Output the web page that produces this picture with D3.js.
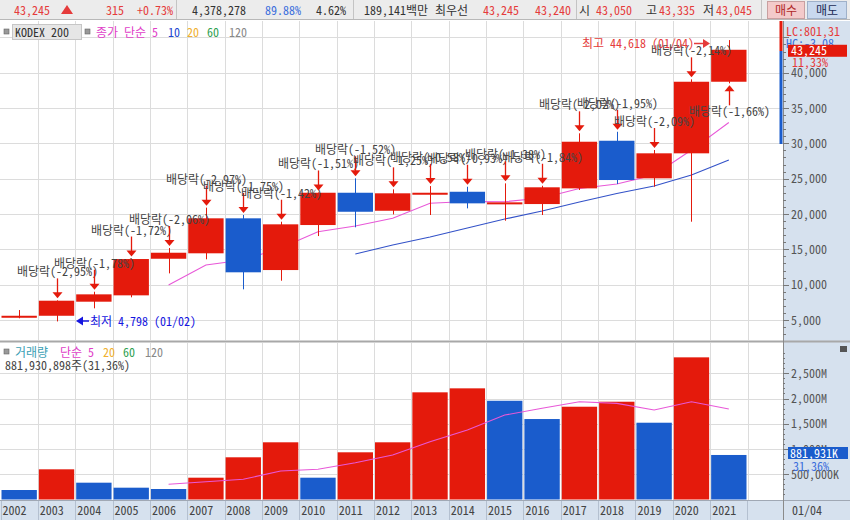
<!DOCTYPE html>
<html><head><meta charset="utf-8">
<script src="https://cdn.jsdelivr.net/npm/d3@7"></script>
<style>
html,body{margin:0;padding:0;background:#fff;}
svg{display:block;font-family:"Noto Sans Mono CJK KR","Noto Sans CJK KR","Noto Sans",sans-serif;}
</style></head><body>
<svg id="c" width="850" height="520"></svg>
<script>
// ---------------- DATA ----------------
const years = [2002,2003,2004,2005,2006,2007,2008,2009,2010,2011,2012,2013,2014,2015,2016,2017,2018,2019,2020,2021];
const openP  = [5380,5600,7590,8490,13670,14440,19390,12070,18440,23010,20460,22950,23150,21410,21410,23630,30370,25050,28590,38720];
const highP  = [6410,7780,9000,13700,15190,20900,19860,18910,23050,25050,23490,23960,23860,24340,24000,31420,31640,29060,39060,44618];
const lowP   = [5240,4798,6650,8210,11600,13590,9340,10560,16880,18120,19950,19860,20800,19050,19860,23400,24240,23860,18910,38500];
const closeP = [5600,7730,8630,13630,14520,19390,11750,18540,23010,20320,22930,23010,21510,21650,23780,30230,24810,28590,38720,43245];
const ma5P   = [null,null,null,null,9950,12780,13490,15190,17490,18300,19390,21530,21770,21740,22260,23610,24240,25520,29050,32950];
const ma10P  = [null,null,null,null,null,null,null,null,null,14340,15610,16740,18020,19290,20420,21700,22900,23960,25520,27640];
const volume = [188,598,333,234,208,432,836,1133,432,935,1133,2123,2202,1956,1594,1838,1937,1521,2816,882]; // millions
const ma5V   = [null,null,null,null,301,352,400,564,598,729,881,1145,1376,1673,1806,1937,1905,1772,1937,1792];
const divLabels = [null,"배당락(-2,95%)","배당락(-1,78%)","배당락(-1,72%)","배당락(-2,06%)","배당락(-2,97%)","배당락(-1,75%)","배당락(-1,42%)","배당락(-1,51%)","배당락(-1,52%)","배당락(-1,25%)","배당락(-0,58%)","배당락(-0,93%)","배당락(-1,38%)","배당락(-1,84%)","배당락(-2,02%)","배당락(-1,95%)","배당락(-2,09%)","배당락(-2,14%)","배당락(-1,66%)"];
const priceTicks = [5000,10000,15000,20000,25000,30000,35000,40000];
const priceTickLabels = ["5,000","10,000","15,000","20,000","25,000","30,000","35,000","40,000"];
const volTicks = [500,1000,1500,2000,2500];
const volTickLabels = ["500,000K","1,000M","1,500M","2,000M","2,500M"];

// ---------------- STYLE ----------------
const RED = "#e41a0c", BLUE = "#1a5ccc", PINK = "#e858d8", MABLUE = "#3352c8";
const GRID = "#dcdcdc", AXBG = "#d6e1ee", TXT = "#444";

const svg = d3.select("#c");
svg.append("rect").attr("width",850).attr("height",520).attr("fill","#fff");

function txt(g,x,y,s,color,size,anchor,weight){
  return g.append("text").attr("x",x).attr("y",y).text(s).attr("fill",color||TXT)
    .attr("font-size",size||12).attr("text-anchor",anchor||"start").attr("font-weight",weight||"normal");
}

// ---------------- SCALES ----------------
const plotR = 783;
const x = d3.scaleBand().domain(years).range([0.5,747.5]).padding(0);
const bw = x.bandwidth();
const cx = d => x(d) + bw/2;
const y = d3.scaleLinear().domain([5000,40000]).range([320,72.7]);
const yv = d3.scaleLinear().domain([0,2500]).range([499.5,373.3]);

// ---------------- TOP BAR ----------------
const topG = svg.append("g");
topG.append("rect").attr("x",0).attr("y",0).attr("width",850).attr("height",20).attr("fill","#ececec");
topG.append("line").attr("x1",0).attr("x2",850).attr("y1",19.5).attr("y2",19.5).attr("stroke","#b8b8b8");
[176.5,353.5,576.5,761.5].forEach(v=>topG.append("line").attr("x1",v).attr("x2",v).attr("y1",0).attr("y2",19).attr("stroke","#c4c4c4"));
const tb = 15;
txt(topG,14,tb,"43,245","#e53b3b",12);
topG.append("path").attr("d","M61,14 L67,5 L73,14 Z").attr("fill","#e53b3b");
txt(topG,106,tb,"315","#e53b3b",12);
txt(topG,137,tb,"+0.73%","#e53b3b",12);
txt(topG,192,tb,"4,378,278","#333",12);
txt(topG,265,tb,"89.88%","#3a6edc",12);
txt(topG,316,tb,"4.62%","#333",12);
txt(topG,364,tb,"189,141백만","#333",12);
txt(topG,435,tb,"최우선","#333",12);
txt(topG,483,tb,"43,245","#e53b3b",12);
txt(topG,535,tb,"43,240","#e53b3b",12);
txt(topG,579,tb,"시","#333",12);
txt(topG,596,tb,"43,050","#e53b3b",12);
txt(topG,646,tb,"고","#333",12);
txt(topG,659,tb,"43,335","#e53b3b",12);
txt(topG,703,tb,"저","#333",12);
txt(topG,716,tb,"43,045","#e53b3b",12);
topG.append("rect").attr("x",767.5).attr("y",1.5).attr("width",37).attr("height",17).attr("fill","#f3caca").attr("stroke","#c9a0a0");
txt(topG,786,tb,"매수","#b02828",12,"middle");
topG.append("rect").attr("x",807.5).attr("y",1.5).attr("width",39).attr("height",17).attr("fill","#c9d9ee").attr("stroke","#9fb1c9");
txt(topG,827,tb,"매도","#1b2b55",12,"middle");

// ---------------- BACKGROUNDS ----------------
svg.append("rect").attr("x",plotR).attr("y",21).attr("width",850-plotR).attr("height",499).attr("fill",AXBG);
svg.append("rect").attr("x",0).attr("y",500).attr("width",plotR).attr("height",20).attr("fill",AXBG);

// ---------------- GRID ----------------
const grid = svg.append("g");
[...priceTicks,45000].forEach(v=>grid.append("line").attr("x1",0).attr("x2",plotR).attr("y1",Math.round(y(v))+0.5).attr("y2",Math.round(y(v))+0.5).attr("stroke",GRID));
volTicks.forEach(v=>grid.append("line").attr("x1",0).attr("x2",plotR).attr("y1",Math.round(yv(v))+0.5).attr("y2",Math.round(yv(v))+0.5).attr("stroke",GRID));
[...years.slice(1).map(d=>x(d)),747.5].forEach(v=>{
  const xx = Math.round(v)+0.5;
  grid.append("line").attr("x1",xx).attr("x2",xx).attr("y1",21).attr("y2",340).attr("stroke",GRID);
  grid.append("line").attr("x1",xx).attr("x2",xx).attr("y1",343).attr("y2",500).attr("stroke",GRID);
});

svg.append("rect").attr("x",0).attr("y",340.5).attr("width",850).attr("height",2).attr("fill","#a8a8a8");
svg.append("line").attr("x1",0).attr("x2",850).attr("y1",500.5).attr("y2",500.5).attr("stroke","#a0a8b4");
svg.append("line").attr("x1",plotR+0.5).attr("x2",plotR+0.5).attr("y1",21).attr("y2",520).attr("stroke","#8a8a8a");

// ---------------- PRICE PANEL ----------------
svg.append("clipPath").attr("id","pc").append("rect").attr("x",0).attr("y",21).attr("width",plotR).attr("height",319);
const pg = svg.append("g").attr("clip-path","url(#pc)");

const maLine = d3.line().defined(d=>d.v!=null).x(d=>cx(d.yr)).y(d=>y(d.v));
pg.append("path").datum(years.map((yr,i)=>({yr,v:ma10P[i]}))).attr("d",maLine).attr("fill","none").attr("stroke",MABLUE).attr("stroke-width",1.1);
pg.append("path").datum(years.map((yr,i)=>({yr,v:ma5P[i]}))).attr("d",maLine).attr("fill","none").attr("stroke",PINK).attr("stroke-width",1.1);

years.forEach((yr,i)=>{
  const up = closeP[i] >= openP[i];
  const col = up ? RED : BLUE;
  const xc = Math.round(cx(yr))+0.5;
  pg.append("line").attr("x1",xc).attr("x2",xc).attr("y1",y(highP[i])).attr("y2",y(lowP[i])).attr("stroke",col).attr("stroke-width",1);
  const t = y(Math.max(openP[i],closeP[i])), b = y(Math.min(openP[i],closeP[i]));
  pg.append("rect").attr("x",x(yr)+1).attr("y",t).attr("width",bw-2).attr("height",Math.max(2,b-t)).attr("fill",col);
});

// dividend annotations
const ag = svg.append("g");
years.forEach((yr,i)=>{
  const lab = divLabels[i];
  if(!lab) return;
  const xc = Math.round(cx(yr))+0.5;
  if(i === years.length-1){
    const tip = y(lowP[i]) + 2;
    ag.append("line").attr("x1",xc).attr("x2",xc).attr("y1",tip+5).attr("y2",tip+20).attr("stroke",RED).attr("stroke-width",1.3);
    ag.append("path").attr("d",`M${xc-5},${tip+6} L${xc+5},${tip+6} L${xc},${tip} Z`).attr("fill",RED);
    txt(ag,xc,tip+31,lab,TXT,12,"middle");
  } else {
    const tip = y(highP[i]) - 2;
    ag.append("line").attr("x1",xc).attr("x2",xc).attr("y1",tip-20).attr("y2",tip-5).attr("stroke",RED).attr("stroke-width",1.3);
    ag.append("path").attr("d",`M${xc-5},${tip-6} L${xc+5},${tip-6} L${xc},${tip} Z`).attr("fill",RED);
    txt(ag,xc,tip-22,lab,TXT,12,"middle");
  }
});

const hiI = years.length-1;
txt(ag,582,48,"최고 44,618 (01/04)","#e53b3b",12);
ag.append("line").attr("x1",694).attr("x2",704).attr("y1",43.5).attr("y2",43.5).attr("stroke","#e53b3b").attr("stroke-width",1.5);
ag.append("path").attr("d","M703,39 L710,43.5 L703,48 Z").attr("fill","#e53b3b");
ag.append("path").attr("d","M76,321 L83,316.5 L83,325.5 Z").attr("fill","#1515e0");
ag.append("line").attr("x1",82).attr("x2",89).attr("y1",321).attr("y2",321).attr("stroke","#1515e0").attr("stroke-width",1.5);
txt(ag,90,326,"최저 4,798 (01/02)","#1515e0",12);

// price legend
const lg = svg.append("g");
lg.append("rect").attr("x",4).attr("y",29).attr("width",5).attr("height",5).attr("fill","#999").attr("stroke","#666").attr("stroke-width",0.6);
lg.append("rect").attr("x",12.5).attr("y",24.5).attr("width",69).attr("height",15).attr("fill","#e6e6e6").attr("stroke","#c6c6c6");
txt(lg,15,37,"KODEX 200","#333",12);
lg.append("rect").attr("x",85).attr("y",29).attr("width",5).attr("height",5).attr("fill","#999").attr("stroke","#666").attr("stroke-width",0.6);
txt(lg,96,37,"종가 단순","#e040c8",12);
txt(lg,152,37,"5","#e040c8",12);
txt(lg,168,37,"10","#2246d0",12);
txt(lg,187,37,"20","#f0b030",12);
txt(lg,207,37,"60","#2fa050",12);
txt(lg,229,37,"120","#888",12);

// price axis
const pa = svg.append("g");
d3.range(1000,46000,1000).forEach(v=>{
  const yy = y(v);
  if(yy<22||yy>339) return;
  const major = v%5000===0;
  pa.append("line").attr("x1",plotR).attr("x2",plotR+(major?6:3)).attr("y1",Math.round(yy)+0.5).attr("y2",Math.round(yy)+0.5).attr("stroke","#777");
});
priceTicks.forEach((v,i)=>txt(pa,791,y(v)+4.5,priceTickLabels[i],"#555",12));
pa.append("rect").attr("x",779.5).attr("y",21).attr("width",3).attr("height",30).attr("fill",RED);
pa.append("rect").attr("x",779.5).attr("y",51).attr("width",3).attr("height",93).attr("fill",BLUE);
txt(pa,786,36,"LC:801,31","#e53b3b",12);
txt(pa,786,48,"HC:-3,08","#3a6edc",12);
pa.append("rect").attr("x",788).attr("y",y(closeP[hiI])-5).attr("width",59).attr("height",12).attr("fill",RED);
txt(pa,791,y(closeP[hiI])+5,"43,245","#fff",12);
txt(pa,792,67,"11,33%","#e53b3b",12);

// ---------------- VOLUME PANEL ----------------
const vg = svg.append("g");
const maVLine = d3.line().defined(d=>d.v!=null).x(d=>cx(d.yr)).y(d=>yv(d.v));
years.forEach((yr,i)=>{
  const col = (i>0 && volume[i] >= volume[i-1]) ? RED : BLUE;
  vg.append("rect").attr("x",x(yr)+1).attr("y",yv(volume[i])).attr("width",bw-2).attr("height",yv(0)-yv(volume[i])).attr("fill",col);
});
vg.append("path").datum(years.map((yr,i)=>({yr,v:ma5V[i]}))).attr("d",maVLine).attr("fill","none").attr("stroke",PINK).attr("stroke-width",1.1);

lg.append("rect").attr("x",4).attr("y",349).attr("width",5).attr("height",5).attr("fill","#999").attr("stroke","#666").attr("stroke-width",0.6);
txt(lg,15,357,"거래량","#3aa0b4",12);
txt(lg,60,357,"단순","#e040c8",12);
txt(lg,88,357,"5","#e040c8",12);
txt(lg,103,357,"20","#f0b030",12);
txt(lg,123,357,"60","#2fa050",12);
txt(lg,145,357,"120","#888",12);
txt(lg,5,370,"881,930,898주(31,36%)","#444",12);

d3.range(100,3000,100).forEach(v=>{
  const yy = yv(v);
  if(yy<344||yy>499) return;
  const major = v%500===0;
  pa.append("line").attr("x1",plotR).attr("x2",plotR+(major?6:2)).attr("y1",Math.round(yy)+0.5).attr("y2",Math.round(yy)+0.5).attr("stroke","#777");
});
volTicks.forEach((v,i)=>txt(pa,791,yv(v)+4.5,volTickLabels[i],"#555",12));
pa.append("rect").attr("x",788).attr("y",447).attr("width",60).attr("height",12).attr("fill",BLUE);
txt(pa,790,457.5,"881,931K","#fff",12);
txt(pa,793,471,"31,36%","#3a6edc",12);
pa.append("rect").attr("x",840).attr("y",346).attr("width",7).attr("height",6).attr("fill","#555");

// ---------------- X AXIS ----------------
const xa = svg.append("g");
years.forEach(yr=>{
  const xx = Math.round(x(yr))+0.5;
  xa.append("line").attr("x1",xx).attr("x2",xx).attr("y1",501).attr("y2",520).attr("stroke","#b4c0d0");
  txt(xa,x(yr)+2,515,String(yr),"#444",12);
});
xa.append("line").attr("x1",747.5).attr("x2",747.5).attr("y1",501).attr("y2",520).attr("stroke","#b4c0d0");
txt(xa,792,515,"01/04","#444",12);
</script>
</body></html>
